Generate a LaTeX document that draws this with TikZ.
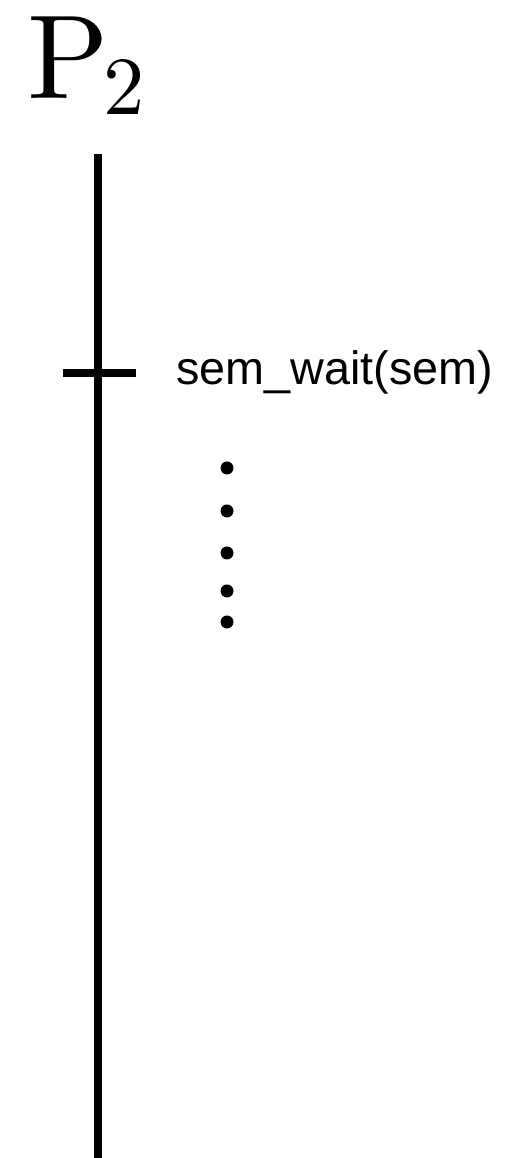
\documentclass[tikz,border=0pt]{standalone}
\usepackage{fontspec}
\usepackage{tikz}
\usetikzlibrary{positioning, calc}
\newfontfamily\labelfont{Liberation Sans}
\newfontfamily\procfont[Extension=.otf]{lmroman10-regular}

\begin{document}
\begin{tikzpicture}

  \useasboundingbox (0,0) rectangle (10.42,23.16);

  % Process name
  \node[anchor=base west, inner sep=0pt, font=\procfont\fontsize{68}{68}\selectfont] (proc) at (0.54,21.18)
    {P\kern-3pt{\fontsize{47}{47}\selectfont\raisebox{-9pt}{2}}};

  % Time line
  \coordinate (top) at (1.96,20.08);
  \coordinate (bottom) at (1.96,-0.1);
  \draw[line width=4.5pt] (top) -- (bottom);

  % sem_wait call
  \coordinate (tickl) at (1.26,15.70);
  \coordinate (tickr) at (2.72,15.70);
  \draw[line width=4.5pt] (tickl) -- (tickr);
  \node[anchor=base west, inner sep=0pt, font=\labelfont\fontsize{26.6}{26.6}\selectfont] (wait) at (3.52,15.46) {sem\_wait(sem)};

  % Dots
  \foreach \i/\y in {1/13.80, 2/12.94, 3/12.10, 4/11.34, 5/10.72}{
    \fill (4.54,\y) circle (0.13) coordinate (dot\i);
  }

\end{tikzpicture}
\end{document}
